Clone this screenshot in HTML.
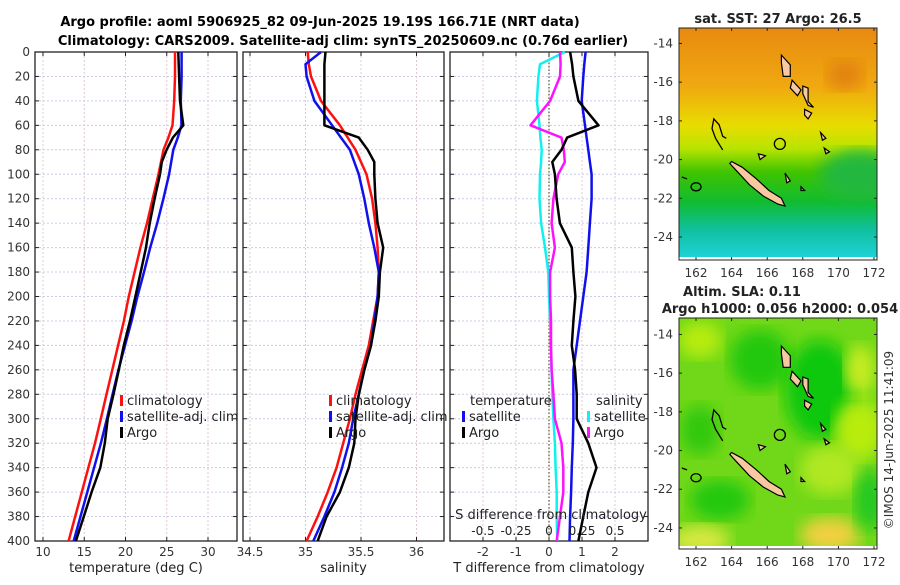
<!DOCTYPE html>
<html><head><meta charset="utf-8"><style>
body{margin:0;background:#fff;width:900px;height:580px;overflow:hidden;font-family:"Liberation Sans","DejaVu Sans",sans-serif}
svg text{font-family:"DejaVu Sans","Liberation Sans",sans-serif}
</style></head><body>
<svg id="s" width="900" height="580" viewBox="0 0 900 580" xmlns="http://www.w3.org/2000/svg">
<defs>
<linearGradient id="sst" x1="0" y1="0" x2="0" y2="1">
<stop offset="0" stop-color="#e88a10"/><stop offset="0.25" stop-color="#f0a810"/><stop offset="0.42" stop-color="#e8dc00"/><stop offset="0.52" stop-color="#b8e400"/><stop offset="0.62" stop-color="#40c400"/><stop offset="0.75" stop-color="#10bc30"/><stop offset="0.87" stop-color="#10c0a0"/><stop offset="1" stop-color="#20d4dc"/>
</linearGradient>
<filter id="bl"><feGaussianBlur stdDeviation="8"/></filter>
<clipPath id="c1"><rect x="679" y="28" width="198" height="232"/></clipPath>
<clipPath id="c2"><rect x="679" y="318" width="198" height="231"/></clipPath>
</defs>
<g font-weight="bold" font-size="13" text-anchor="middle">
<text x="320" y="26">Argo profile: aoml 5906925_82 09-Jun-2025 19.19S 166.71E (NRT data)</text>
<text x="343" y="45">Climatology: CARS2009. Satellite-adj clim: synTS_20250609.nc (0.76d earlier)</text>
</g>
<g id="plots"></g>
<g id="maps"></g>
<text x="893" y="440" font-size="12" fill="#333" transform="rotate(-90 893 440)" text-anchor="middle">©IMOS 14-Jun-2025 11:41:09</text>
</svg>
<script>
const depths=[0,10,20,40,60,70,80,90,100,120,140,160,180,200,220,240,260,280,300,320,340,360,380,400];
const tempClim=[26.0,26.0,26.0,25.9,25.7,25.2,24.6,24.3,24.0,23.3,22.6,21.8,21.1,20.4,19.8,19.1,18.4,17.7,17.0,16.3,15.5,14.7,13.9,13.1];
const tempSat=[26.8,26.8,26.8,26.7,26.79,26.34,25.79,25.54,25.29,24.59,23.84,22.99,22.24,21.44,20.74,19.94,19.14,18.44,17.74,17.02,16.19,15.37,14.54,13.72];
const tempArgo=[26.4,26.45,26.5,26.6,27.0,25.75,24.98,24.4,24.18,23.53,22.93,22.49,21.84,21.2,20.54,19.79,19.19,18.54,17.84,17.49,16.94,15.89,14.94,13.99];
const salClim=[35.02,35.03,35.05,35.14,35.31,35.38,35.45,35.5,35.55,35.6,35.63,35.65,35.66,35.65,35.61,35.57,35.51,35.45,35.4,35.34,35.28,35.2,35.11,35.01];
const salSat=[35.14,35.0,35.01,35.08,35.24,35.32,35.4,35.44,35.48,35.53,35.57,35.62,35.66,35.65,35.62,35.59,35.53,35.48,35.43,35.39,35.33,35.26,35.17,35.07];
const salArgo=[35.18,35.17,35.17,35.17,35.17,35.48,35.56,35.62,35.62,35.63,35.65,35.7,35.67,35.66,35.63,35.59,35.53,35.48,35.45,35.44,35.39,35.31,35.19,35.11];
const tDiffSat=[1.11,1.07,1.04,0.99,1.09,1.14,1.19,1.24,1.29,1.29,1.24,1.19,1.14,1.04,0.94,0.84,0.74,0.74,0.74,0.72,0.69,0.67,0.64,0.62];
const tDiffArgo=[0.64,0.7,0.74,0.89,1.5,0.55,0.38,0.1,0.18,0.23,0.33,0.69,0.74,0.8,0.74,0.69,0.79,0.84,0.84,1.19,1.44,1.19,1.04,0.89];
const sDiffSat=[0.12,-0.068,-0.08,-0.092,-0.072,-0.065,-0.055,-0.06,-0.068,-0.072,-0.06,-0.03,-0.005,0,0.008,0.015,0.02,0.025,0.033,0.045,0.05,0.058,0.058,0.062];
const sDiffArgo=[0.083,0.088,0.083,0.008,-0.14,0.095,0.112,0.12,0.07,0.033,0.02,0.045,0.008,0.008,0.015,0.015,0.02,0.033,0.045,0.095,0.108,0.108,0.083,0.058];
const depthTicks=[0,20,40,60,80,100,120,140,160,180,200,220,240,260,280,300,320,340,360,380,400];
const tempTicks=[10,15,20,25,30];
const salTicks=[34.5,35,35.5,36];
const salTickLabels=["34.5","35","35.5","36"];
const tdTicks=[-2,-1,0,1,2];
const sdTicks=[-0.5,-0.25,0,0.25,0.5];
const sdTickLabels=["-0.5","-0.25","0","0.25","0.5"];

const NS='http://www.w3.org/2000/svg';
function mk(tag,attrs,parent){const e=document.createElementNS(NS,tag);for(const k in attrs)e.setAttribute(k,attrs[k]);parent.appendChild(e);return e;}
function txt(str,attrs,parent){const e=mk('text',attrs,parent);e.textContent=str;return e;}
const Y0=52,Y1=541;
const yScale=d=>Y0+d*(Y1-Y0)/400;
const plots=document.getElementById('plots');

function panel(name,x0,x1,xs,ticks,labels,xlabel,showY){
  const g=mk('g',{},plots);
  
  
  depthTicks.forEach(d=>{mk('line',{x1:x0,x2:x1,y1:yScale(d),y2:yScale(d),stroke:'#c8cce8','stroke-width':1,'stroke-dasharray':'2,2'},g);
    mk('line',{x1:x0,x2:x0+4,y1:yScale(d),y2:yScale(d),stroke:'#222'},g);mk('line',{x1:x1-4,x2:x1,y1:yScale(d),y2:yScale(d),stroke:'#222'},g);
    if(showY){const t=txt(String(d),{x:30,y:yScale(d)+4,'font-size':12,'text-anchor':'end',fill:'#333'},g);}});
  ticks.forEach((v,i)=>{const x=xs(v);mk('line',{x1:x,x2:x,y1:Y0,y2:Y1,stroke:'#e0c8d0','stroke-width':1,'stroke-dasharray':'2,2'},g);
    mk('line',{x1:x,x2:x,y1:Y1-4,y2:Y1,stroke:'#222'},g);mk('line',{x1:x,x2:x,y1:Y0,y2:Y0+4,stroke:'#222'},g);
    const t=txt(labels[i],{x:x,y:556,'font-size':12,'text-anchor':'middle',fill:'#333'},g);});
  mk('rect',{x:x0,y:Y0,width:x1-x0,height:Y1-Y0,fill:'none',stroke:'#222','stroke-width':1.3},g);
  const xl=txt(xlabel,{x:(x0+x1)/2,y:572,'font-size':13,'text-anchor':'middle',fill:'#222'},g);
  
  return g;
}
function line(g,name,vals,xs,color,w){
  const p=vals.map((v,i)=>xs(v).toFixed(1)+','+yScale(depths[i]).toFixed(1)).join(' ');
  const e=mk('polyline',{points:p,fill:'none',stroke:color,'stroke-width':w||2.5,'stroke-linejoin':'round'},g);
  
}
function legend(g,x,y,items){
  items.forEach((it,i)=>{const yy=y+i*16;mk('rect',{x:x,y:yy-10,width:3,height:11,fill:it[1]},g);
    const t=txt(it[0],{x:x+7,y:yy,'font-size':13,fill:'#222'},g);});
}
const xT=t=>43+(t-10)*8.25;
const g1=panel('temperature-panel',35,237,xT,tempTicks,tempTicks.map(String),'temperature (deg C)',true);
line(g1,'temp-climatology-line',tempClim,xT,'#ff1010');
line(g1,'temp-satellite-line',tempSat,xT,'#1010ee');
line(g1,'temp-argo-line',tempArgo,xT,'#000');
legend(g1,120,405,[['climatology','#ff1010'],['satellite-adj. clim','#1010ee'],['Argo','#000']]);
const xS=s=>250+(s-34.5)*111;
const g2=panel('salinity-panel',243,444,xS,salTicks,salTickLabels,'salinity',false);
line(g2,'sal-climatology-line',salClim,xS,'#ff1010');
line(g2,'sal-satellite-line',salSat,xS,'#1010ee');
line(g2,'sal-argo-line',salArgo,xS,'#000');
legend(g2,329,405,[['climatology','#ff1010'],['satellite-adj. clim','#1010ee'],['Argo','#000']]);
const xD=v=>549+v*33;
const xSD=v=>549+v*132;
const g3=panel('difference-panel',450,648,xD,tdTicks,tdTicks.map(String),'T difference from climatology',false);
mk('line',{x1:xD(0),x2:xD(0),y1:Y0,y2:Y1,stroke:'#555530','stroke-width':1.2,'stroke-dasharray':'1.5,2'},g3);
line(g3,'s-diff-satellite-line',sDiffSat,xSD,'#10f0f0');
line(g3,'s-diff-argo-line',sDiffArgo,xSD,'#ff10ff');
line(g3,'t-diff-satellite-line',tDiffSat,xD,'#1010ee');
line(g3,'t-diff-argo-line',tDiffArgo,xD,'#000');
txt('temperature',{x:470,y:405,'font-size':13,fill:'#222'},g3);
txt('salinity',{x:596,y:405,'font-size':13,fill:'#222'},g3);
legend(g3,462,421,[['satellite','#1010ee'],['Argo','#000']]);
legend(g3,587,421,[['satellite','#10f0f0'],['Argo','#ff10ff']]);
const sdt=txt('S difference from climatology',{x:551,y:519,'font-size':13,'text-anchor':'middle',fill:'#222'},g3);

sdTicks.forEach((v,i)=>{const t=txt(sdTickLabels[i],{x:xSD(v),y:535,'font-size':12,'text-anchor':'middle',fill:'#222'},g3);});

const maps=document.getElementById('maps');
const lonTicks=[162,164,166,168,170,172];
const latTicks=[-14,-16,-18,-20,-22,-24];
function map(name,y0,y1,latTop,clip,fillFn){
  const g=mk('g',{},maps);
  const x0=679,x1=877;
  const lx=l=>696+(l-162)*17.8, ly=la=>y0+(latTop-la)*19.35;
  const inner=mk('g',{'clip-path':'url(#'+clip+')'},g);
  fillFn(inner,x0,y0,x1,y1);
  const nc=[[164.0,-20.1],[164.6,-20.4],[165.4,-21.0],[166.1,-21.6],[166.8,-22.0],[167.0,-22.4],[166.6,-22.3],[165.8,-21.9],[165.0,-21.3],[164.3,-20.6],[163.9,-20.2]];
  const poly=(pts,nm)=>{const e=mk('polygon',{points:pts.map(p=>lx(p[0]).toFixed(1)+','+ly(p[1]).toFixed(1)).join(' '),fill:'#f8c8a0',stroke:'#000','stroke-width':1.2},inner);};
  poly(nc,'new-caledonia-coast');
  poly([[166.8,-14.6],[167.3,-15.1],[167.3,-15.7],[166.9,-15.7],[166.8,-15.0]],'island');
  poly([[167.4,-15.9],[167.9,-16.4],[167.7,-16.7],[167.3,-16.3]],'island');
  poly([[168.0,-16.2],[168.3,-16.3],[168.3,-17.0],[168.6,-17.3],[168.3,-17.2],[168.0,-16.6]],'island');
  poly([[168.1,-17.4],[168.5,-17.6],[168.3,-17.9],[168.1,-17.7]],'island');
  poly([[169.0,-18.6],[169.3,-18.9],[169.1,-19.0]],'island');
  poly([[169.2,-19.4],[169.5,-19.6],[169.3,-19.7]],'island');
  poly([[165.5,-19.7],[165.9,-19.8],[165.6,-20.0]],'island');
  poly([[167.0,-20.7],[167.3,-21.1],[167.1,-21.2]],'island');
  poly([[167.9,-21.4],[168.1,-21.6],[167.9,-21.6]],'island');
  mk('path',{d:`M${lx(163.5)} ${ly(-19.5)} L${lx(163.1)} ${ly(-18.9)} L${lx(162.9)} ${ly(-18.4)} L${lx(163.0)} ${ly(-17.9)} L${lx(163.3)} ${ly(-18.2)} L${lx(163.5)} ${ly(-18.8)} L${lx(163.7)} ${ly(-18.9)}`,fill:'none',stroke:'#000','stroke-width':1.3},inner);
  mk('path',{d:`M${lx(161.2)} ${ly(-20.9)} L${lx(161.5)} ${ly(-21.0)} M${lx(162.0)} ${ly(-21.2)} a5 4 0 1 0 0.1 0`,fill:'none',stroke:'#000','stroke-width':1.3},inner);
  const c=mk('circle',{cx:lx(166.71),cy:ly(-19.19),r:5.5,fill:'none',stroke:'#000','stroke-width':1.3},inner);
  
  mk('rect',{x:x0,y:y0,width:x1-x0,height:y1-y0,fill:'none',stroke:'#222','stroke-width':1},g);
  lonTicks.forEach(l=>{mk('line',{x1:lx(l),x2:lx(l),y1:y1-3,y2:y1,stroke:'#222'},g);mk('line',{x1:lx(l),x2:lx(l),y1:y0,y2:y0+3,stroke:'#222'},g);
    const t=txt(String(l),{x:lx(l),y:y1+17,'font-size':12,'text-anchor':'middle',fill:'#333'},g);});
  latTicks.forEach(la=>{mk('line',{x1:x0,x2:x0+3,y1:ly(la),y2:ly(la),stroke:'#222'},g);mk('line',{x1:x1-3,x2:x1,y1:ly(la),y2:ly(la),stroke:'#222'},g);
    const t=txt(String(la),{x:673,y:ly(la)+4,'font-size':12,'text-anchor':'end',fill:'#333'},g);});
  return g;
}
const m1=map('sst-map',28,260,-13.2,'c1',(g,x0,y0,x1,y1)=>{
  mk('rect',{x:x0,y:y0,width:x1-x0,height:y1-y0,fill:'url(#sst)'},g);
  mk('ellipse',{cx:860,cy:175,rx:40,ry:25,fill:'#20b840',filter:'url(#bl)'},g);
  mk('ellipse',{cx:845,cy:75,rx:18,ry:15,fill:'#e28210',filter:'url(#bl)'},g);
  mk('rect',{x:x0,y:y1-3,width:x1-x0,height:3,fill:'#fff'},g);
});
txt('sat. SST: 27 Argo: 26.5',{x:778,y:23,'font-size':13,'font-weight':'bold','text-anchor':'middle',fill:'#222'},m1);
const m2=map('sla-map',318,549,-13.15,'c2',(g,x0,y0,x1,y1)=>{
  mk('rect',{x:x0,y:y0,width:x1-x0,height:y1-y0,fill:'#70d818'},g);
  [[700,340,22,18,'#b8ec10'],[760,360,30,30,'#20c810'],[820,390,35,50,'#10c810'],[860,430,25,30,'#b8ec10'],[700,430,20,25,'#30c810'],[720,500,30,20,'#20c810'],[830,470,30,25,'#b0e820'],[830,535,30,18,'#f0d040'],[700,540,30,15,'#d8e840'],[870,500,15,30,'#20c820'],[860,370,15,25,'#c8ec20']].forEach(b=>mk('ellipse',{cx:b[0],cy:b[1],rx:b[2],ry:b[3],fill:b[4],filter:'url(#bl)'},g));
  mk('rect',{x:x0,y:y1-3,width:x1-x0,height:3,fill:'#fff'},g);
});
txt('Altim. SLA: 0.11',{x:742,y:296,'font-size':13,'font-weight':'bold','text-anchor':'middle',fill:'#222'},m2);
txt('Argo h1000: 0.056 h2000: 0.054',{x:780,y:313,'font-size':13,'font-weight':'bold','text-anchor':'middle',fill:'#222'},m2);
</script>
</body></html>
